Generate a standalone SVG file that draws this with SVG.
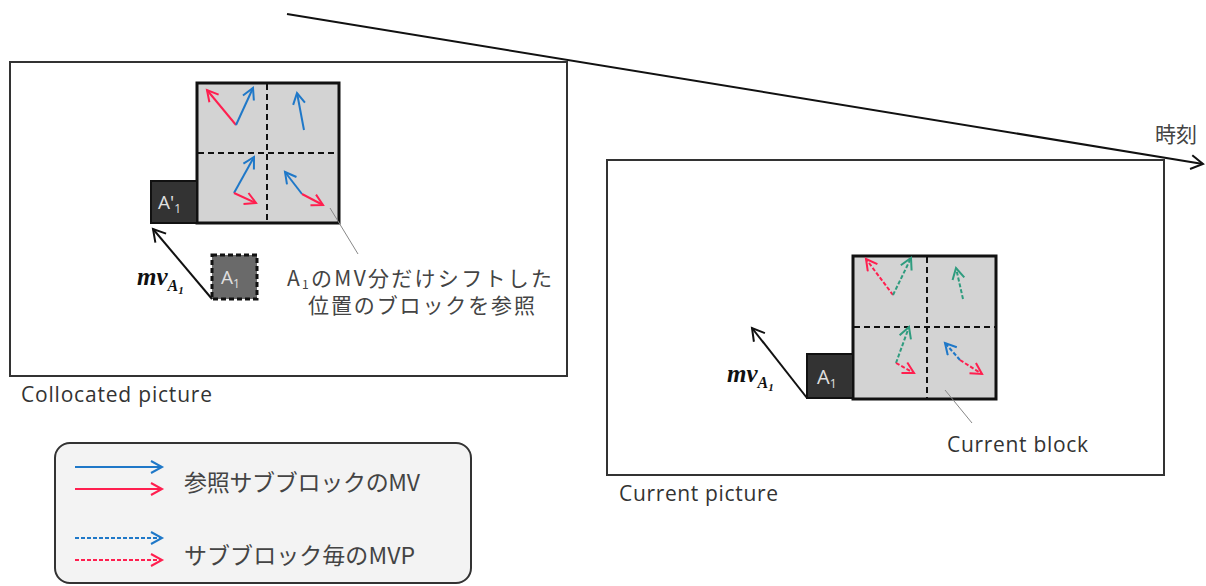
<svg xmlns="http://www.w3.org/2000/svg" width="1206" height="586" viewBox="0 0 1206 586">
<style>
.pic{fill:#fff;stroke:#333;stroke-width:2}
.blk{fill:#d3d3d3;stroke:#111;stroke-width:3}
.mid{stroke:#111;stroke-width:2;stroke-dasharray:6 4;fill:none}
.b{stroke:#1f78c8;stroke-width:2;fill:none;marker-end:url(#hb)}
.r{stroke:#ff1f4f;stroke-width:2;fill:none;marker-end:url(#hr)}
.bd{stroke:#1f78c8;stroke-width:2;fill:none;stroke-dasharray:4 2;marker-end:url(#hb)}
.rd{stroke:#ff1f4f;stroke-width:2;fill:none;stroke-dasharray:4 2;marker-end:url(#hr)}
.gd{stroke:#2f9c7f;stroke-width:2;fill:none;stroke-dasharray:4 2;marker-end:url(#hg)}
.k{stroke:#111;stroke-width:2;fill:none;marker-end:url(#hk)}
.lead{stroke:#888;stroke-width:1;fill:none}
.lbl{font-family:"Open Sans","Noto Sans",sans-serif;fill:#333}
.jp{font-family:"Noto Sans CJK JP",sans-serif;fill:#444}
.mv{font-family:"Liberation Serif",serif;font-weight:bold;font-style:italic;fill:#111}
.in{font-family:"Open Sans","Noto Sans",sans-serif;fill:#e0e0e0}
</style>
<defs>
<marker id="hb" markerUnits="userSpaceOnUse" markerWidth="16" markerHeight="16" refX="12" refY="7" orient="auto" viewBox="0 0 16 16"><path d="M1,1 L12,7 L1,13" fill="none" stroke="#1f78c8" stroke-width="2"/></marker>
<marker id="hr" markerUnits="userSpaceOnUse" markerWidth="16" markerHeight="16" refX="12" refY="7" orient="auto" viewBox="0 0 16 16"><path d="M1,1 L12,7 L1,13" fill="none" stroke="#ff1f4f" stroke-width="2"/></marker>
<marker id="hg" markerUnits="userSpaceOnUse" markerWidth="16" markerHeight="16" refX="12" refY="7" orient="auto" viewBox="0 0 16 16"><path d="M1,1 L12,7 L1,13" fill="none" stroke="#2f9c7f" stroke-width="2"/></marker>
<marker id="hk" markerUnits="userSpaceOnUse" markerWidth="18" markerHeight="18" refX="13" refY="8" orient="auto" viewBox="0 0 18 18"><path d="M1,1 L13,8 L1,15" fill="none" stroke="#111" stroke-width="2"/></marker>
</defs>
<rect width="1206" height="586" fill="#fff"/>

<g id="collocated-picture">
<rect class="pic" x="10" y="62" width="557" height="314"/>
<text class="lbl" x="21" y="402" font-size="21" textLength="191">Collocated picture</text>
</g>

<g id="current-picture">
<rect class="pic" x="607" y="160" width="557" height="315"/>
<text class="lbl" x="619" y="501" font-size="21" textLength="159">Current picture</text>
</g>

<g id="time-axis">
<line x1="287" y1="14" x2="1203" y2="164" stroke="#111" stroke-width="2" marker-end="url(#hk)"/>
<text class="jp" x="1155" y="142" font-size="21">時刻</text>
</g>

<g id="collocated-block">
<rect class="blk" x="197" y="83" width="142" height="140"/>
<line class="mid" x1="267" y1="84" x2="267" y2="222"/>
<line class="mid" x1="198" y1="153" x2="338" y2="153"/>
</g>

<g id="block-A1prime">
<rect x="151" y="181" width="46" height="42" fill="#333" stroke="#111" stroke-width="2"/>
<text class="in" x="158" y="209" font-size="19">A'<tspan font-size="12" dy="4">1</tspan></text>
</g>

<g id="block-A1-shifted">
<rect x="212" y="255" width="45" height="44" fill="#6a6a6a" stroke="#111" stroke-width="3" stroke-dasharray="5 3"/>
<text class="in" x="221" y="284" font-size="19">A<tspan font-size="12" dy="4">1</tspan></text>
</g>

<g id="current-block">
<rect class="blk" x="853" y="256" width="143" height="143"/>
<line class="mid" x1="927" y1="257" x2="927" y2="398"/>
<line class="mid" x1="854" y1="327" x2="995" y2="327"/>
</g>

<g id="block-A1">
<rect x="807" y="354" width="46" height="44" fill="#333" stroke="#111" stroke-width="2"/>
<text class="in" x="817" y="384" font-size="20">A<tspan font-size="12" dy="4">1</tspan></text>
</g>

<g id="label-shift">
<text class="jp" x="287" y="286" font-size="21" textLength="265">A<tspan font-size="12" dy="3">1</tspan><tspan dy="-3">のMV分だけシフトした</tspan></text>
<text class="jp" x="308" y="313" font-size="21" textLength="227">位置のブロックを参照</text>
</g>

<g id="label-current-block">
<text class="lbl" x="947" y="452" font-size="21" textLength="141">Current block</text>
</g>

<g id="mv-labels">
<text class="mv" x="137" y="285" font-size="25">mv<tspan font-size="16" dy="6">A</tspan><tspan font-size="11" dy="3">1</tspan></text>
<text class="mv" x="727" y="382" font-size="25">mv<tspan font-size="16" dy="6">A</tspan><tspan font-size="11" dy="3">1</tspan></text>
</g>

<g id="connectors">
<line class="k" x1="212" y1="299" x2="153" y2="229"/>
<line class="k" x1="807" y1="398" x2="752" y2="328"/>
<line class="lead" x1="330" y1="208" x2="358" y2="254"/>
<line class="lead" x1="945" y1="390" x2="972" y2="423"/>
<line class="r" x1="236" y1="125" x2="207" y2="90"/>
<line class="b" x1="236" y1="125" x2="253" y2="88"/>
<line class="b" x1="304" y1="130" x2="297" y2="93"/>
<line class="b" x1="234" y1="193" x2="254" y2="157"/>
<line class="r" x1="234" y1="193" x2="256" y2="203"/>
<line class="b" x1="302" y1="194" x2="285" y2="172"/>
<line class="r" x1="302" y1="194" x2="323" y2="205"/>
<line class="rd" x1="893" y1="295" x2="866" y2="259"/>
<line class="gd" x1="893" y1="295" x2="911" y2="258"/>
<line class="gd" x1="963" y1="299" x2="956" y2="268"/>
<line class="gd" x1="896" y1="363" x2="909" y2="327"/>
<line class="rd" x1="896" y1="363" x2="914" y2="373"/>
<line class="bd" x1="960" y1="360" x2="945" y2="343"/>
<line class="rd" x1="960" y1="360" x2="982" y2="374"/>
</g>

<g id="legend">
<rect x="55" y="443" width="416" height="140" rx="15" fill="#f3f3f3" stroke="#333" stroke-width="2"/>
<line class="b" x1="75" y1="467" x2="162" y2="467"/>
<line class="r" x1="75" y1="489" x2="162" y2="489"/>
<line class="bd" x1="75" y1="538" x2="162" y2="538"/>
<line class="rd" x1="75" y1="560" x2="162" y2="560"/>
<text class="jp" x="184" y="491" font-size="23" textLength="236">参照サブブロックのMV</text>
<text class="jp" x="184" y="564" font-size="23" textLength="231">サブブロック毎のMVP</text>
</g>
</svg>
